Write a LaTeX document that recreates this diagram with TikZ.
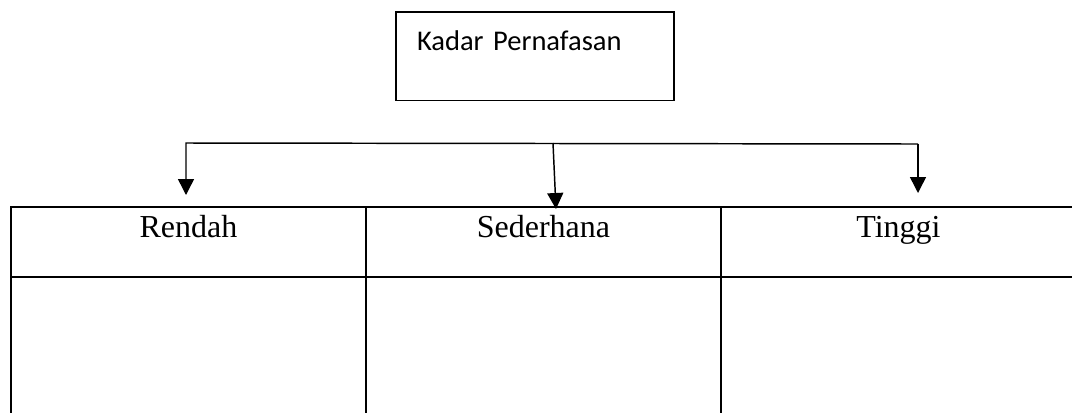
\documentclass[tikz,border=0pt]{standalone}
\usepackage{fontspec}
\setmainfont{Liberation Serif}
\newfontfamily\boxfont{Carlito}
\usetikzlibrary{arrows.meta}

\tikzset{
  cell/.style={draw, line width=0.8pt, outer sep=0pt, anchor=north west,
    minimum width=266.25pt, inner xsep=0pt, font=\fontsize{24}{28}\selectfont},
  head/.style={cell, inner ysep=6pt, text height=16.5pt, text depth=24pt},
  body/.style={cell, minimum height=105pt},
  title/.style={draw, line width=1pt, outer sep=0pt, anchor=north west,
    text width=177pt, align=left, inner xsep=15.75pt, inner ysep=13pt,
    text height=15.5pt, text depth=24.75pt, font=\boxfont\fontsize{21.4}{25}\selectfont},
  link/.style={line width=1.1pt, -{Triangle[width=12pt,length=12pt]}},
}

\begin{document}
\begin{tikzpicture}[x=0.75pt, y=-0.75pt]
\useasboundingbox (0,0) rectangle (1072,412);
\clip (0,0) rectangle (1072,412);
\node[title] (kadar) at (396,12) {Kadar Pernafasan};
\node[head] (rendah) at (11,207) {Rendah};
\node[head] (sederhana) at (366,207) {Sederhana};
\node[head] (tinggi) at (721,207) {Tinggi};
\node[body] (rendahisi) at (11,277) {};
\node[body] (sederhanaisi) at (366,277) {};
\node[body] (tinggiisi) at (721,277) {};
\coordinate (busL) at (186,143);
\coordinate (busM) at (553,143);
\coordinate (busR) at (918,144);
\coordinate (tipL) at (186,195);
\coordinate (tipM) at (556,209);
\coordinate (tipR) at (918,193);
\draw[link] (busR) -- (busL) -- (tipL);
\draw[link] (busM) -- (tipM);
\draw[link] (busR) -- (tipR);
\end{tikzpicture}
\end{document}
